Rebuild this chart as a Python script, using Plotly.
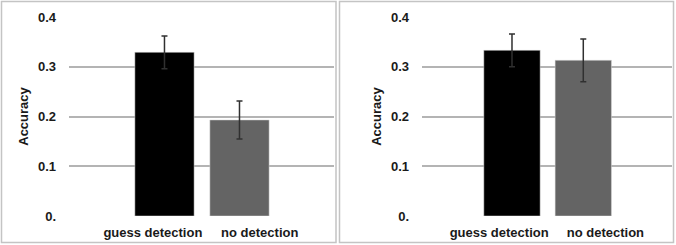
import plotly.graph_objects as go

categories = ["guess detection", "no detection"]
left_values = [0.329, 0.193]
left_errors = [0.033, 0.038]
right_values = [0.333, 0.313]
right_errors = [0.033, 0.043]
y_tickvals = [0, 0.1, 0.2, 0.3, 0.4]
y_ticktext = ["0.", "0.1", "0.2", "0.3", "0.4"]
bar_colors = ["#000000", "#646464"]

W, H = 676, 245
fig = go.Figure()

positions = list(range(len(categories)))
for i, (vals, errs) in enumerate([(left_values, left_errors), (right_values, right_errors)]):
    suffix = "" if i == 0 else "2"
    fig.add_trace(go.Bar(
        x=positions, y=vals, width=0.79,
        marker=dict(color=bar_colors, line=dict(color="#d8d8d8", width=0.5)),
        error_y=dict(type="data", array=errs, visible=True, color="#303030", thickness=1.5, width=3),
        xaxis="x" + suffix, yaxis="y" + suffix, showlegend=False,
    ))

font_bold = dict(family="Liberation Sans, Arial, sans-serif", size=13, color="#1a1a1a")

def xa(domain, rng, anchor, label_pos):
    return dict(domain=domain, range=rng, anchor=anchor, tickmode="array",
                tickvals=label_pos, ticktext=[f"<b>{c}</b>" for c in categories],
                showgrid=False, zeroline=False, showline=False, ticks="",
                tickfont=font_bold, ticklabelstandoff=7, fixedrange=True, automargin=False)

def ya(domain, anchor):
    return dict(domain=domain, range=[0, 0.4], anchor=anchor, tickmode="array",
                tickvals=y_tickvals, ticktext=[f"<b>{t}</b>" for t in y_ticktext],
                showgrid=True, gridcolor="#b4b4b4", gridwidth=1.5, zeroline=False,
                showline=False, ticks="", tickfont=font_bold, ticklabelstandoff=12,
                title=dict(text="<b>Accuracy</b>", font=font_bold, standoff=6),
                fixedrange=True, automargin=False)

ydom = [1 - 216 / H, 1 - 17 / H]
fig.update_layout(
    width=W, height=H, margin=dict(l=0, r=0, t=0, b=0, autoexpand=False),
    paper_bgcolor="white", plot_bgcolor="white", bargap=0.2,
    xaxis=xa([69 / W, 334 / W], [-1.273, 2.26], "y", [-0.155, 1.27]),
    yaxis=ya(ydom, "x"),
    xaxis2=xa([422 / W, 672 / W], [-1.262, 2.244], "y2", [-0.18, 1.31]),
    yaxis2=ya(ydom, "x2"),
    shapes=[
        dict(type="rect", xref="paper", yref="paper", x0=1.5 / W, x1=336 / W, y0=1 - 242.5 / H, y1=1 - 1.5 / H,
             line=dict(color="#c4c4c4", width=1.5), layer="below"),
        dict(type="rect", xref="paper", yref="paper", x0=339.5 / W, x1=673.5 / W, y0=1 - 242.5 / H, y1=1 - 1.5 / H,
             line=dict(color="#c4c4c4", width=1.5), layer="below"),
    ],
)

fig.write_html("out.html", config={"displayModeBar": False},
               post_script="document.body.style.margin='0';document.body.style.overflow='hidden';")
